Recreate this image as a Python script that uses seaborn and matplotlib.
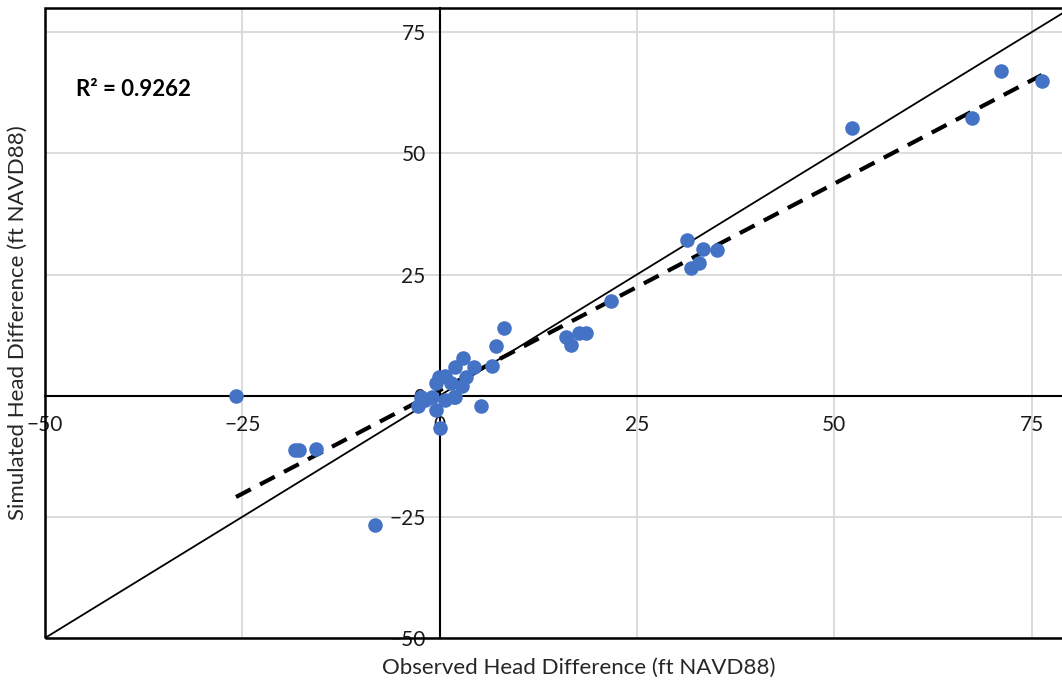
import numpy as np
import pandas as pd
import seaborn as sns
import matplotlib.pyplot as plt
from matplotlib.patches import Rectangle

# observed vs simulated head difference (ft NAVD88)
observed = [-25.8, -18.3, -17.8, -15.7, -8.2,
            -2.3, -2.7, -1.8, -1.0, -0.5, -0.4, -0.1, 0.1, 0.7, 0.7,
            1.5, 1.8, 1.9, 2.0, 2.8, 3.0, 3.4, 4.3, 5.2, 6.6, 7.1, 8.1,
            16.0, 16.6, 17.6, 18.5, 21.7,
            31.3, 31.8, 32.9, 33.4, 35.2,
            52.3, 67.4, 71.1, 76.3]
simulated = [0.0, -11.3, -11.3, -11.1, -26.7,
             -0.2, -2.2, -0.8, -0.2, 2.7, -2.9, 3.9, -6.6, 4.1, -0.8,
             2.7, -0.2, 6.0, -0.2, 1.9, 7.8, 3.9, 6.0, -2.2, 6.2, 10.3, 14.0,
             12.1, 10.5, 13.0, 13.0, 19.5,
             32.1, 26.3, 27.4, 30.2, 30.0,
             55.3, 57.4, 67.1, 65.0]
ticks = [-50, -25, 0, 25, 50, 75]
r2_label = "R² = 0.9262"

df = pd.DataFrame({"observed": observed, "simulated": simulated})

sns.set_style("white")
plt.rcParams["font.family"] = ["Lato", "DejaVu Sans"]

fig = plt.figure(figsize=(10.62, 6.88), dpi=100)
# axes run a little past the right edge, like the cropped original
ax = fig.add_axes([45 / 1062, 50 / 688, 1026 / 1062, 630 / 688])

ax.set_xlim(-50, 80)
ax.set_ylim(-50, 80)
ax.set_xticks(ticks)
ax.set_yticks(ticks)
ax.grid(True, color="#d9d9d9", linewidth=1.3)
ax.set_axisbelow(True)

# 1:1 line
ax.axline((0, 0), slope=1, color="black", linewidth=1.3, zorder=2)

# linear trend (dashed)
sns.regplot(data=df, x="observed", y="simulated", scatter=False, ci=None,
            truncate=True, ax=ax,
            line_kws=dict(color="black", linewidth=3, dashes=(4, 2.5), zorder=3))

sns.scatterplot(data=df, x="observed", y="simulated", ax=ax,
                color="#4472c4", s=110, linewidth=0, zorder=4)

# axes crossing at zero
for side in ["left", "bottom"]:
    ax.spines[side].set_position(("data", 0))
    ax.spines[side].set_linewidth(1.5)
    ax.spines[side].set_color("black")
    ax.spines[side].set_zorder(2.5)
ax.spines["top"].set_visible(False)
ax.spines["right"].set_visible(False)
ax.add_patch(Rectangle((0, 0), 1, 1, transform=ax.transAxes, fill=False,
                       edgecolor="black", linewidth=1.8, clip_on=False, zorder=5))

ax.tick_params(axis="both", length=0, labelsize=15, colors="#1a1a1a")
ax.tick_params(axis="x", pad=14)
ax.tick_params(axis="y", pad=10)

ax.set_xlabel("Observed Head Difference (ft NAVD88)", fontsize=16, color="#262626")
ax.set_ylabel("Simulated Head Difference (ft NAVD88)", fontsize=16, color="#262626")
ax.xaxis.set_label_coords(0.52, -0.032)
ax.yaxis.set_label_coords(-0.017, 0.5)

ax.text(0.03, 0.86, r2_label, transform=ax.transAxes, fontsize=16,
        fontweight="bold", color="black")

plt.savefig("out.png", dpi=100)
